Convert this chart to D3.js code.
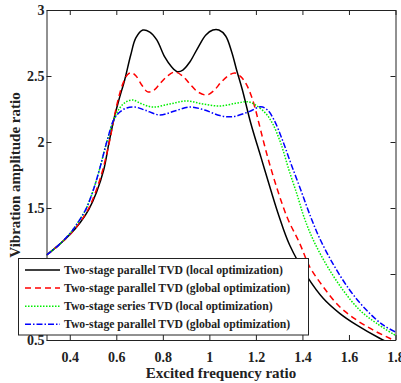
<!DOCTYPE html>
<html>
<head>
    <title>Vibration amplitude ratio</title>
    <script src="https://d3js.org/d3.v7.min.js"></script>
    <style>
        body { margin: 0; background: white; }
        text { font-family: "Liberation Serif", "Times New Roman", serif; font-weight: bold; fill: #222; }
    </style>
</head>
<body>
<div id="chart"></div>
<script>
    // curves: [frequency ratio, amplitude ratio]
    const localParallel = [
        [0.300, 1.144], [0.350, 1.215], [0.404, 1.305], [0.445, 1.390], [0.482, 1.490],
        [0.515, 1.620], [0.546, 1.790], [0.568, 1.990], [0.589, 2.167], [0.611, 2.318],
        [0.636, 2.470], [0.662, 2.659], [0.684, 2.788], [0.714, 2.848], [0.744, 2.833],
        [0.774, 2.773], [0.808, 2.644], [0.838, 2.568], [0.862, 2.533], [0.886, 2.545],
        [0.916, 2.606], [0.950, 2.712], [0.985, 2.811], [1.015, 2.848], [1.041, 2.848],
        [1.070, 2.803], [1.096, 2.682], [1.118, 2.540], [1.142, 2.394], [1.178, 2.142],
        [1.221, 1.889], [1.264, 1.636], [1.299, 1.440], [1.345, 1.220], [1.424, 0.970],
        [1.489, 0.816], [1.560, 0.702], [1.632, 0.614], [1.732, 0.513], [1.801, 0.455]
    ];
    const globalParallel = [
        [0.300, 1.144], [0.350, 1.215], [0.404, 1.305], [0.445, 1.395], [0.482, 1.500],
        [0.512, 1.625], [0.542, 1.790], [0.572, 2.015], [0.593, 2.205], [0.612, 2.350],
        [0.630, 2.450], [0.648, 2.510], [0.665, 2.525], [0.685, 2.500], [0.710, 2.430],
        [0.735, 2.380], [0.760, 2.390], [0.787, 2.440], [0.820, 2.500], [0.851, 2.530],
        [0.885, 2.500], [0.916, 2.440], [0.950, 2.380], [0.989, 2.356], [1.020, 2.390],
        [1.049, 2.450], [1.080, 2.500], [1.109, 2.523], [1.135, 2.495], [1.158, 2.440],
        [1.178, 2.360], [1.196, 2.260], [1.213, 2.142], [1.250, 1.889], [1.293, 1.636],
        [1.336, 1.422], [1.388, 1.233], [1.431, 1.055], [1.489, 0.904], [1.560, 0.752],
        [1.632, 0.652], [1.703, 0.576], [1.775, 0.513], [1.801, 0.492]
    ];
    const localSeries = [
        [0.300, 1.144], [0.350, 1.215], [0.400, 1.305], [0.435, 1.390], [0.469, 1.490],
        [0.500, 1.630], [0.529, 1.800], [0.559, 2.000], [0.589, 2.167], [0.615, 2.258],
        [0.641, 2.303], [0.671, 2.318], [0.710, 2.288], [0.757, 2.265], [0.830, 2.288],
        [0.903, 2.311], [0.972, 2.288], [1.045, 2.273], [1.113, 2.293], [1.164, 2.305],
        [1.199, 2.280], [1.242, 2.217], [1.271, 2.142], [1.307, 1.990], [1.342, 1.788],
        [1.379, 1.590], [1.407, 1.430], [1.446, 1.260], [1.503, 1.070], [1.574, 0.879],
        [1.646, 0.727], [1.718, 0.627], [1.801, 0.534]
    ];
    const globalParallel2 = [
        [0.300, 1.144], [0.350, 1.215], [0.400, 1.305], [0.435, 1.390], [0.469, 1.490],
        [0.500, 1.630], [0.529, 1.800], [0.559, 2.000], [0.589, 2.167], [0.615, 2.227],
        [0.645, 2.258], [0.680, 2.265], [0.723, 2.242], [0.787, 2.205], [0.851, 2.235],
        [0.916, 2.265], [0.980, 2.242], [1.045, 2.200], [1.100, 2.192], [1.171, 2.230],
        [1.221, 2.267], [1.250, 2.242], [1.278, 2.167], [1.314, 2.015], [1.350, 1.839],
        [1.393, 1.636], [1.436, 1.430], [1.474, 1.270], [1.532, 1.075], [1.603, 0.879],
        [1.675, 0.727], [1.746, 0.614], [1.801, 0.560]
    ];

    const seriesNames = [
        "Two-stage parallel TVD (local optimization)",
        "Two-stage parallel TVD (global optimization)",
        "Two-stage series TVD (local optimization)",
        "Two-stage parallel TVD (global optimization)"
    ];
    const seriesData = [localParallel, globalParallel, localSeries, globalParallel2];
    const xTicks = [0.4, 0.6, 0.8, 1, 1.2, 1.4, 1.6, 1.8];
    const yTicks = [0.5, 1, 1.5, 2, 2.5, 3];

    // line styles
    const colors = ["#000000", "#ff0000", "#00ee00", "#0000ff"];
    const dashes = [null, "6,4", "1.5,1.5", "6,2,1.5,2"];

    const width = 401, height = 383;
    const margin = { top: 10, right: 5.5, bottom: 43, left: 46.5 };

    const svg = d3.select("#chart").append("svg")
        .attr("width", width)
        .attr("height", height);

    const x = d3.scaleLinear().domain([0.3, 1.8]).range([margin.left, width - margin.right]);
    const y = d3.scaleLinear().domain([0.5, 3]).range([height - margin.bottom, margin.top]);

    svg.append("clipPath").attr("id", "plot-clip")
        .append("rect")
        .attr("x", margin.left).attr("y", margin.top)
        .attr("width", x(1.8) - x(0.3)).attr("height", y(0.5) - y(3));

    // axes, ticks pointing inwards
    const tickLen = 5;
    svg.append("g")
        .attr("transform", `translate(0,${y(0.5)})`)
        .call(d3.axisBottom(x).tickValues(xTicks).tickSizeInner(-tickLen).tickSizeOuter(0)
            .tickPadding(12).tickFormat(d3.format("")))
        .call(g => g.selectAll("text").style("font-size", "14px"));
    svg.append("g")
        .attr("transform", `translate(0,${y(3)})`)
        .call(d3.axisTop(x).tickValues(xTicks).tickSizeInner(-tickLen).tickSizeOuter(0).tickFormat(""));
    svg.append("g")
        .attr("transform", `translate(${x(0.3)},0)`)
        .call(d3.axisLeft(y).tickValues(yTicks).tickSizeInner(-tickLen).tickSizeOuter(0)
            .tickPadding(2).tickFormat(d3.format("")))
        .call(g => g.selectAll("text").style("font-size", "14px"));
    svg.append("g")
        .attr("transform", `translate(${x(1.8)},0)`)
        .call(d3.axisRight(y).tickValues(yTicks).tickSizeInner(-tickLen).tickSizeOuter(0).tickFormat(""));

    svg.selectAll(".domain").attr("stroke", "#222");
    svg.selectAll(".tick line").attr("stroke", "#222");
    svg.selectAll(".tick text").attr("fill", "#222").style("font-family", null);

    // curves
    const line = d3.line()
        .x(d => x(d[0]))
        .y(d => y(d[1]))
        .curve(d3.curveCatmullRom.alpha(0.5));

    const plot = svg.append("g").attr("clip-path", "url(#plot-clip)");
    seriesData.forEach((s, i) => {
        plot.append("path")
            .datum(s)
            .attr("d", line)
            .attr("fill", "none")
            .attr("stroke", colors[i])
            .attr("stroke-width", 1.5)
            .attr("stroke-dasharray", dashes[i]);
    });

    // axis titles
    svg.append("text")
        .attr("x", (x(0.3) + x(1.8)) / 2)
        .attr("y", 378)
        .attr("text-anchor", "middle")
        .style("font-size", "15px")
        .text("Excited frequency ratio");
    svg.append("text")
        .attr("transform", `translate(20,${(y(0.5) + y(3)) / 2}) rotate(-90)`)
        .attr("text-anchor", "middle")
        .style("font-size", "15px")
        .text("Vibration amplitude ratio");

    // legend
    const legend = svg.append("g");
    legend.append("rect")
        .attr("x", 18.5).attr("y", 258.5)
        .attr("width", 290).attr("height", 76.5)
        .attr("fill", "white")
        .attr("stroke", "#222")
        .attr("stroke-width", 1);
    seriesNames.forEach((name, i) => {
        const ly = 270 + i * 18.1;
        legend.append("line")
            .attr("x1", 25).attr("x2", 60)
            .attr("y1", ly).attr("y2", ly)
            .attr("stroke", colors[i])
            .attr("stroke-width", 1.5)
            .attr("stroke-dasharray", dashes[i]);
        legend.append("text")
            .attr("x", 64).attr("y", ly + 4)
            .style("font-size", "11.7px")
            .text(name);
    });
</script>
</body>
</html>
